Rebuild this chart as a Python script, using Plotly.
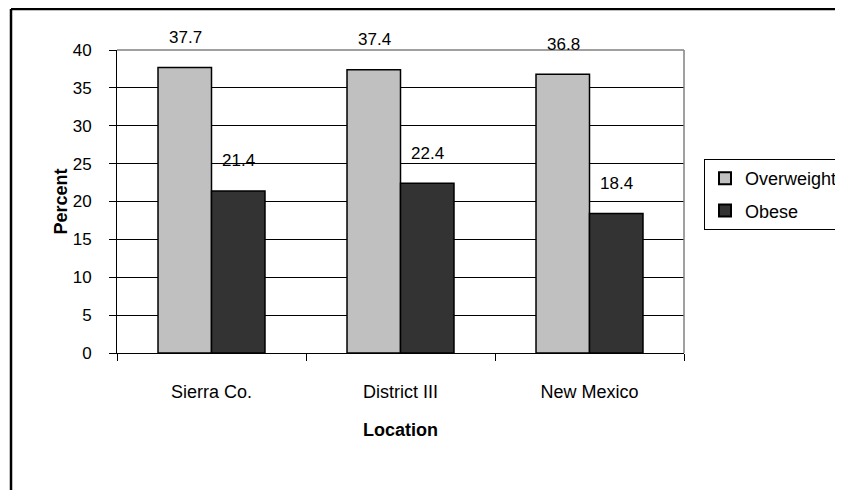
import plotly.graph_objects as go

categories = ["Sierra Co.", "District III", "New Mexico"]
overweight = [37.7, 37.4, 36.8]
obese = [21.4, 22.4, 18.4]
y_ticks = [0, 5, 10, 15, 20, 25, 30, 35, 40]

FONT = "Liberation Sans, Arial, sans-serif"

fig = go.Figure()
fig.add_trace(go.Bar(name="Overweight", x=categories, y=overweight, legendgroup="a",
                     marker=dict(color="#C0C0C0", line=dict(color="black", width=1.5))))
fig.add_trace(go.Bar(name="Obese", x=categories, y=obese, legendgroup="b",
                     marker=dict(color="#333333", line=dict(color="black", width=1.5))))

# data labels above bars (Excel style offset)
for i, c in enumerate(categories):
    for val, xs in ((overweight[i], -26.5), (obese[i], 26.5)):
        fig.add_annotation(x=c, y=val, text=f"{val}", showarrow=False,
                           xshift=xs, yshift=30, yanchor="middle",
                           font=dict(family=FONT, size=17, color="black"))

# figure is placed at (8, 8) in the page; plot area spans page x 117-684, y 50-353
PW, PH = 567, 303
x0 = (11 - 117) / PW
y1 = (353 - 9) / PH
fig.add_shape(type="line", xref="paper", yref="paper", x0=x0, x1=x0, y0=-0.6, y1=y1,
              line=dict(color="black", width=2.5))
fig.add_shape(type="line", xref="paper", yref="paper", x0=x0, x1=1.4, y0=y1, y1=y1,
              line=dict(color="black", width=2.5))
# gray plot border top/right
fig.add_shape(type="line", xref="paper", yref="paper", x0=0, x1=1, y0=1, y1=1,
              line=dict(color="#808080", width=1.5))
fig.add_shape(type="line", xref="paper", yref="paper", x0=1, x1=1, y0=0, y1=1,
              line=dict(color="#808080", width=1.5))

fig.update_layout(
    width=835, height=482,
    margin=dict(l=109, r=159, t=42, b=137, autoexpand=False),
    paper_bgcolor="white", plot_bgcolor="white",
    barmode="group", bargap=0.434, bargroupgap=0,
    font=dict(family=FONT, size=17, color="black"),
    showlegend=True,
    legend=dict(x=(704 - 117) / PW, y=(353 - 159) / PH, xanchor="left", yanchor="top",
                bordercolor="black", borderwidth=1,
                font=dict(family=FONT, size=18, color="black"),
                itemsizing="constant", tracegroupgap=6),
    xaxis=dict(
        showline=True, linecolor="black", linewidth=1,
        ticks="outside", tickson="boundaries", ticklen=7, tickcolor="black",
        ticklabelstandoff=22,
        tickfont=dict(family=FONT, size=18),
        title=dict(text="<b>Location</b>", standoff=22,
                   font=dict(family=FONT, size=18)),
        showgrid=False,
    ),
    yaxis=dict(
        range=[0, 40], tickvals=y_ticks,
        showline=True, linecolor="black", linewidth=1,
        ticks="outside", ticklen=7, tickcolor="black",
        ticklabelstandoff=14,
        showgrid=True, gridcolor="black", gridwidth=1,
        zeroline=False,
        tickfont=dict(family=FONT, size=17),
        title=dict(text="<b>Percent</b>", standoff=0,
                   font=dict(family=FONT, size=18)),
    ),
)

fig.write_html("out.html")
